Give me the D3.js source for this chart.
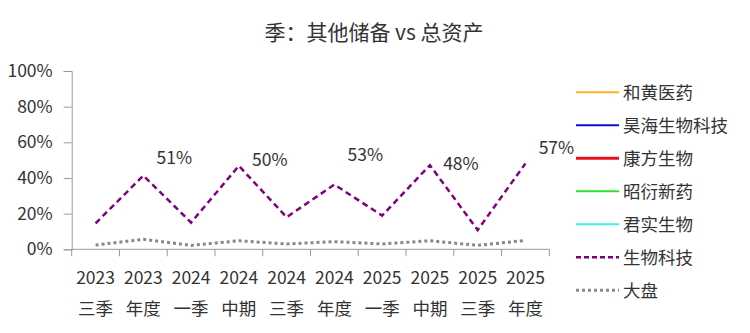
<!DOCTYPE html>
<html>
<head>
<meta charset="utf-8">
<script src="https://cdn.jsdelivr.net/npm/d3@7"></script>
<style>
  html, body { margin: 0; padding: 0; background: #fff; }
  svg { display: block; font-family: "Noto Sans CJK SC", "Noto Sans", sans-serif; }
</style>
</head>
<body>
<svg id="chart" width="750" height="333"></svg>
<script>
const title = "季：其他储备 vs 总资产";
const years = ["2023","2023","2024","2024","2024","2024","2025","2025","2025","2025"];
const periods = ["三季","年度","一季","中期","三季","年度","一季","中期","三季","年度"];
const categories = years.map((y, i) => y + " " + periods[i]);

// series (percent of total assets)
const hehuang = [];       // 和黄医药 — no visible data
const haohai = [];        // 昊海生物科技
const kangfang = [];      // 康方生物
const zhaoyan = [];       // 昭衍新药
const junshi = [];        // 君实生物
const biotech = [14.6, 41.3, 15.0, 46.8, 18.0, 36.3, 18.9, 47.2, 10.8, 48.1]; // 生物科技
const market = [2.4, 5.6, 2.2, 4.8, 3.0, 4.3, 3.0, 4.8, 2.2, 5.0];            // 大盘

// annotation labels
const annotIndex = [1, 3, 5, 7, 9];
const annotValues = [51, 50, 53, 48, 57];

const yTicks = [0, 20, 40, 60, 80, 100];

const seriesNames = ["和黄医药","昊海生物科技","康方生物","昭衍新药","君实生物","生物科技","大盘"];
const seriesData = [hehuang, haohai, kangfang, zhaoyan, junshi, biotech, market];
const seriesColors = ["#FFB020","#1010D0","#E8101A","#30E030","#40F0F0","#800080","#888888"];
const seriesWidths = [2, 2, 3, 2, 2, 2.5, 3];
const seriesDash = [null, null, null, null, null, "6,4", "3,3"];

const svg = d3.select("#chart");
const textColor = "#333";

const x = d3.scaleBand().domain(categories).range([71.7, 549.3]).paddingInner(0).paddingOuter(0);
const y = d3.scaleLinear().domain([0, 100]).range([249.3, 71]);

// title
svg.append("text").attr("x", 374).attr("y", 40).attr("text-anchor", "middle")
  .attr("font-size", 21).attr("fill", textColor).text(title);

// y axis
const yAxis = svg.append("g").attr("transform", "translate(71.7,0)")
  .call(d3.axisLeft(y).tickValues(yTicks).tickFormat(d => d + "%").tickSize(8).tickPadding(11));
yAxis.select(".domain").attr("stroke", "#999");
yAxis.selectAll(".tick line").attr("stroke", "#999");
yAxis.selectAll(".tick text").attr("font-size", 17.5).attr("fill", textColor)
  .attr("font-family", "'Noto Sans CJK SC', sans-serif");

// x axis
const xAxisG = svg.append("g").attr("transform", "translate(0,249.3)");
xAxisG.append("line").attr("x1", x.range()[0]).attr("x2", x.range()[1])
  .attr("stroke", "#999");
const bounds = categories.map(c => x(c)).concat([x.range()[1]]);
xAxisG.selectAll("line.tk").data(bounds).join("line").attr("class", "tk")
  .attr("x1", d => d).attr("x2", d => d).attr("y1", 0).attr("y2", 7).attr("stroke", "#999");
const xl = svg.append("g").selectAll("g").data(categories).join("g")
  .attr("transform", d => `translate(${x(d) + x.bandwidth() / 2},0)`);
xl.append("text").attr("y", 284).attr("text-anchor", "middle").attr("font-size", 17.5)
  .attr("fill", textColor).text((d, i) => years[i]);
xl.append("text").attr("y", 314.5).attr("text-anchor", "middle").attr("font-size", 17.5)
  .attr("fill", textColor).text((d, i) => periods[i]);

// lines
const line = d3.line().x((d, i) => x(categories[i]) + x.bandwidth() / 2).y(d => y(d));
seriesData.forEach((data, k) => {
  if (!data.length) return;
  svg.append("path").datum(data).attr("d", line).attr("fill", "none")
    .attr("stroke", seriesColors[k]).attr("stroke-width", seriesWidths[k])
    .attr("stroke-dasharray", seriesDash[k]);
});

// annotations
svg.append("g").selectAll("text").data(annotValues).join("text")
  .attr("x", (d, i) => x(categories[annotIndex[i]]) + x.bandwidth() / 2 + 31)
  .attr("y", d => y(d) + 6)
  .attr("text-anchor", "middle").attr("font-size", 17.5).attr("fill", textColor)
  .text(d => d + "%");

// legend
const leg = svg.append("g").selectAll("g").data(seriesNames).join("g")
  .attr("transform", (d, i) => `translate(0,${92.3 + i * 33})`);
leg.append("line").attr("x1", 576).attr("x2", 619).attr("y1", 0).attr("y2", 0)
  .attr("stroke", (d, i) => seriesColors[i])
  .attr("stroke-width", (d, i) => seriesWidths[i])
  .attr("stroke-dasharray", (d, i) => i === 5 ? "5,3" : seriesDash[i]);
leg.append("text").attr("x", 623).attr("y", 6.5).attr("font-size", 17.5)
  .attr("fill", textColor).text(d => d);
</script>
</body>
</html>
